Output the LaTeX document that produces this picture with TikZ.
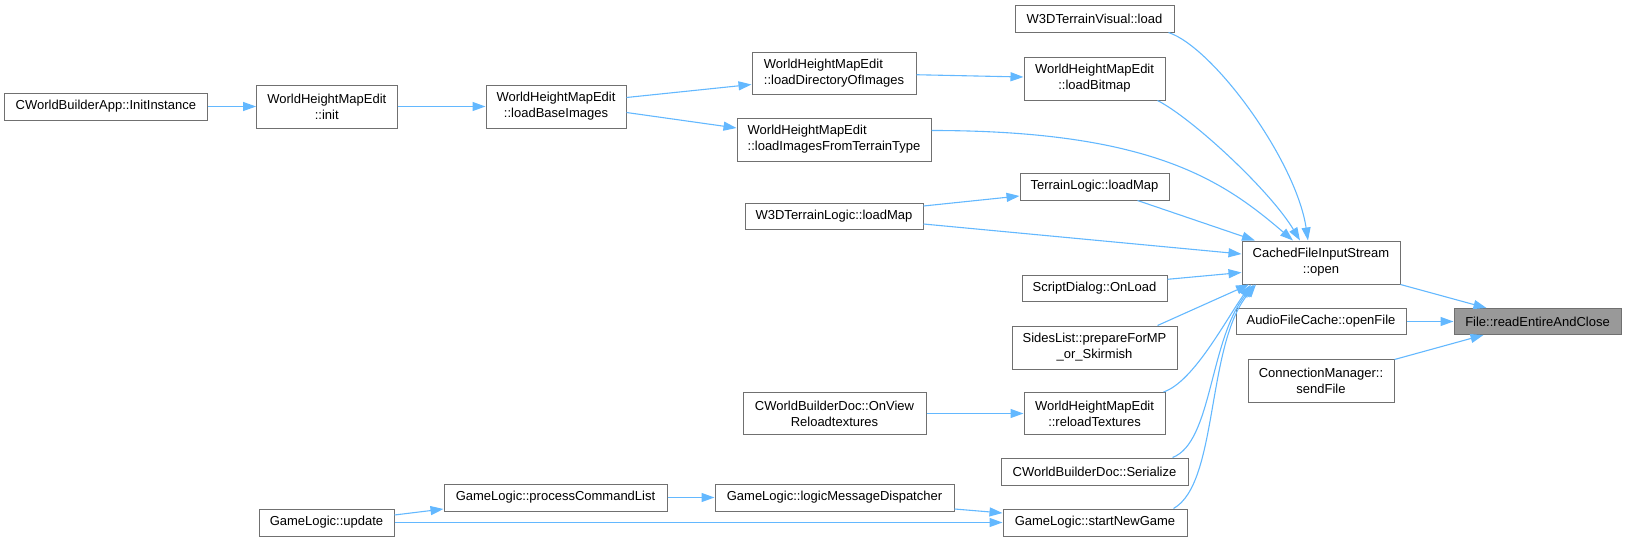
\documentclass[tikz,border=0pt]{standalone}
\usepackage{fontspec}
\setmainfont{Liberation Sans}
\usepackage{tikz}
\usetikzlibrary{arrows.meta,positioning}
\definecolor{edgeblue}{HTML}{63B8FF}
\definecolor{boxgray}{HTML}{707070}
\definecolor{hlgray}{HTML}{999999}
\tikzset{fn/.style={draw=boxgray,line width=1pt,rectangle,inner sep=0pt,minimum height=27pt,align=center,font=\fontsize{13}{16}\selectfont}}
\tikzset{fn2/.style={fn,minimum height=43pt}}
\tikzset{call/.style={draw=edgeblue,line width=1.1pt,->}}

\begin{document}
\begin{tikzpicture}[>={Triangle[length=13pt,width=9pt]}, x=1pt, y=-1pt, every edge/.style={call}]
\useasboundingbox (0,0) rectangle (1626,541);
\node[fn2, minimum width=140.4pt] (N2) at (326.8,106.5) {WorldHeightMapEdit\\::init};
\node[fn, minimum width=203.5pt] (N1) [left=48pt of N2] {CWorldBuilderApp::InitInstance};
\node[fn2, minimum width=140pt] (N3) at (556,106.5) {WorldHeightMapEdit\\::loadBaseImages};
\node[fn2, minimum width=164pt, minimum height=42pt, align=left] (N4) at (834,73) {WorldHeightMapEdit\\::loadDirectoryOfImages};
\node[fn2, minimum width=194pt, align=left] (N5) at (834,139.5) {WorldHeightMapEdit\\::loadImagesFromTerrainType};
\node[fn, minimum width=159pt] (N7) at (1094.5,18.5) {W3DTerrainVisual::load};
\node[fn2, minimum width=141pt] (N6) [below=24pt of N7] {WorldHeightMapEdit\\::loadBitmap};
\node[fn, minimum width=149pt] (N8) at (1094.5,186.5) {TerrainLogic::loadMap};
\node[fn, minimum width=178pt, minimum height=26pt] (N9) at (834,216) {W3DTerrainLogic::loadMap};
\node[fn, minimum width=145pt, minimum height=26pt] (N10) at (1094.5,288) {ScriptDialog::OnLoad};
\node[fn2, minimum width=165pt] (N11) [below=24pt of N10] {SidesList::prepareForMP\\\_or\_Skirmish};
\node[fn2, minimum width=183pt, minimum height=42pt] (N12) at (834.5,413.5) {CWorldBuilderDoc::OnView\\Reloadtextures};
\node[fn2, minimum width=141pt, minimum height=42pt] (N13) at (1094.5,413.5) {WorldHeightMapEdit\\::reloadTextures};
\node[fn, minimum width=187pt] (N14) at (1094.5,471.5) {CWorldBuilderDoc::Serialize};
\node[fn, minimum width=239pt] (N15) at (834.5,497.5) {GameLogic::logicMessageDispatcher};
\node[fn, minimum width=184pt] (N16) at (1095,522.5) {GameLogic::startNewGame};
\node[fn, minimum width=223pt] (N17) at (555.5,497.5) {GameLogic::processCommandList};
\node[fn, minimum width=135pt] (N18) at (326.5,522.5) {GameLogic::update};
\node[fn2, minimum width=158pt] (N19) at (1321,262.5) {CachedFileInputStream\\::open};
\node[fn, minimum width=170pt, minimum height=26pt] (N20) [below=23.5pt of N19] {AudioFileCache::openFile};
\node[fn2, minimum width=146pt] (N21) [below=23.5pt of N20] {ConnectionManager::\\sendFile};
\node[fn, fill=hlgray, minimum width=167pt, minimum height=26pt] (N0) [right=47pt of N20] {File::readEntireAndClose};
\path[->] (N1) edge (N2)
  (N2) edge (N3)
  ([yshift=9pt]N3.east) edge ([yshift=-11.5pt]N4.west)
  ([yshift=-6pt]N3.east) edge ([yshift=11.5pt]N5.west)
  (N4) edge (N6)
  ([yshift=10pt]N9.east) edge ([yshift=-9.5pt]N8.west)
  (N12) edge (N13)
  ([yshift=7.5pt]N18.east) edge ([yshift=-11.5pt]N17.west)
  (N17) edge (N15)
  ([yshift=-11.5pt]N15.east) edge ([yshift=9.5pt]N16.west)
  (N18) edge (N16)
  ([xshift=-32pt]N8.south east) edge ([xshift=-66pt]N19.north)
  ([yshift=-8pt]N9.east) edge ([yshift=8.5pt]N19.west)
  ([yshift=8.7pt]N10.east) edge ([yshift=-10pt]N19.west)
  ([xshift=-20pt]N11.north east) edge ([xshift=-72pt]N19.south)
  (N19.south east) edge ([xshift=-51pt]N0.north)
  (N20) edge (N0)
  ([yshift=-1pt]N21.north east) edge ([xshift=-54pt]N0.south);
\draw[call] ([xshift=-6pt]N7.south east) .. controls +(45,15) and +(-12,-80) .. ([xshift=-13pt]N19.north);
\draw[call] ([xshift=-8pt]N6.south east) .. controls +(35,18) and +(-30,-50) .. ([xshift=-21pt]N19.north);
\draw[call] ([yshift=9pt]N5.east) .. controls +(220,0) and +(-70,-60) .. ([xshift=-28pt]N19.north);
\draw[call] ([xshift=-2pt]N13.north east) .. controls +(30,-10) and +(-25,35) .. ([xshift=-70pt]N19.south);
\draw[call] ([xshift=-16pt]N14.north east) .. controls +(40,-15) and +(-45,55) .. ([xshift=-67pt]N19.south);
\draw[call] ([xshift=-14pt]N16.north east) .. controls +(45,-25) and +(-50,60) .. ([xshift=-65pt]N19.south);
\end{tikzpicture}
\end{document}
